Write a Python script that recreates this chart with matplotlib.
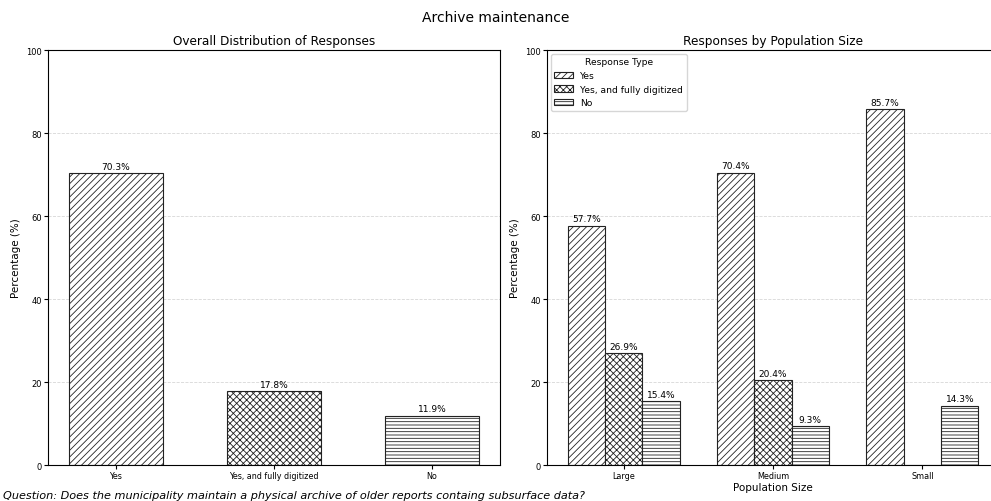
import numpy as np
import matplotlib.pyplot as plt

plt.rcParams['hatch.linewidth'] = 0.6

# overall answers
categories = ['Yes', 'Yes, and fully digitized', 'No']
overall_pct = [70.3, 17.8, 11.9]

# answers split by municipality size
sizes = ['Large', 'Medium', 'Small']
yes_pct = [57.7, 70.4, 85.7]
digitized_pct = [26.9, 20.4, 0.0]
no_pct = [15.4, 9.3, 14.3]

hatches = ['/////', 'xxxxx', '-----']
edge = '#222222'

fig = plt.figure(figsize=(9.91, 5.02), dpi=100)
ax1 = fig.add_axes([48 / 991, 0.0717, 452 / 991, 0.8267])
ax2 = fig.add_axes([547 / 991, 0.0717, 452 / 991, 0.8267])
fig.suptitle('Archive maintenance', fontsize=10, y=0.964, va='center')

# left: overall distribution
x = np.arange(len(categories))
bars = ax1.bar(x, overall_pct, width=0.6, color='white', edgecolor=edge,
               linewidth=0.8)
for b, h in zip(bars, hatches):
    b.set_hatch(h)
for b, v in zip(bars, overall_pct):
    ax1.text(b.get_x() + b.get_width() / 2, v + 0.6, f'{v}%',
             ha='center', va='bottom', fontsize=6.5)
ax1.set_xticks(x)
ax1.set_xticklabels(categories, fontsize=5.8)
ax1.set_ylim(0, 100)
ax1.set_ylabel('Percentage (%)', fontsize=7.5, labelpad=4)
ax1.set_title('Overall Distribution of Responses', fontsize=8.7, pad=4)
ax1.tick_params(axis='y', labelsize=6)
ax1.tick_params(pad=1.5, length=2.8)
ax1.grid(axis='y', linestyle='--', alpha=0.5, linewidth=0.6)
ax1.set_axisbelow(True)

# right: grouped by population size
xg = np.arange(len(sizes))
w = 0.25
series = [('Yes', yes_pct), ('Yes, and fully digitized', digitized_pct),
          ('No', no_pct)]
for i, (name, vals) in enumerate(series):
    bs = ax2.bar(xg + (i - 1) * w, vals, width=w, color='white',
                 edgecolor=edge, linewidth=0.8, hatch=hatches[i], label=name)
    for b, v in zip(bs, vals):
        if v > 0:
            ax2.text(b.get_x() + b.get_width() / 2, v + 0.6, f'{v}%',
                     ha='center', va='bottom', fontsize=6.5)
ax2.set_xticks(xg)
ax2.set_xticklabels(sizes, fontsize=5.8)
ax2.set_ylim(0, 100)
ax2.set_xlabel('Population Size', fontsize=7.5, labelpad=1.5)
ax2.set_ylabel('Percentage (%)', fontsize=7.5, labelpad=4)
ax2.set_title('Responses by Population Size', fontsize=8.7, pad=4)
ax2.tick_params(axis='y', labelsize=6)
ax2.tick_params(pad=1.5, length=2.8)
ax2.grid(axis='y', linestyle='--', alpha=0.5, linewidth=0.6)
ax2.set_axisbelow(True)
ax2.legend(title='Response Type', loc='upper left', fontsize=6.6,
           title_fontsize=6.6, borderaxespad=0.4)

fig.text(0.003, 0.006, 'Question: Does the municipality maintain a physical archive '
         'of older reports containg subsurface data?',
         fontsize=8.15, style='italic')

plt.savefig('out.png', dpi=100)
